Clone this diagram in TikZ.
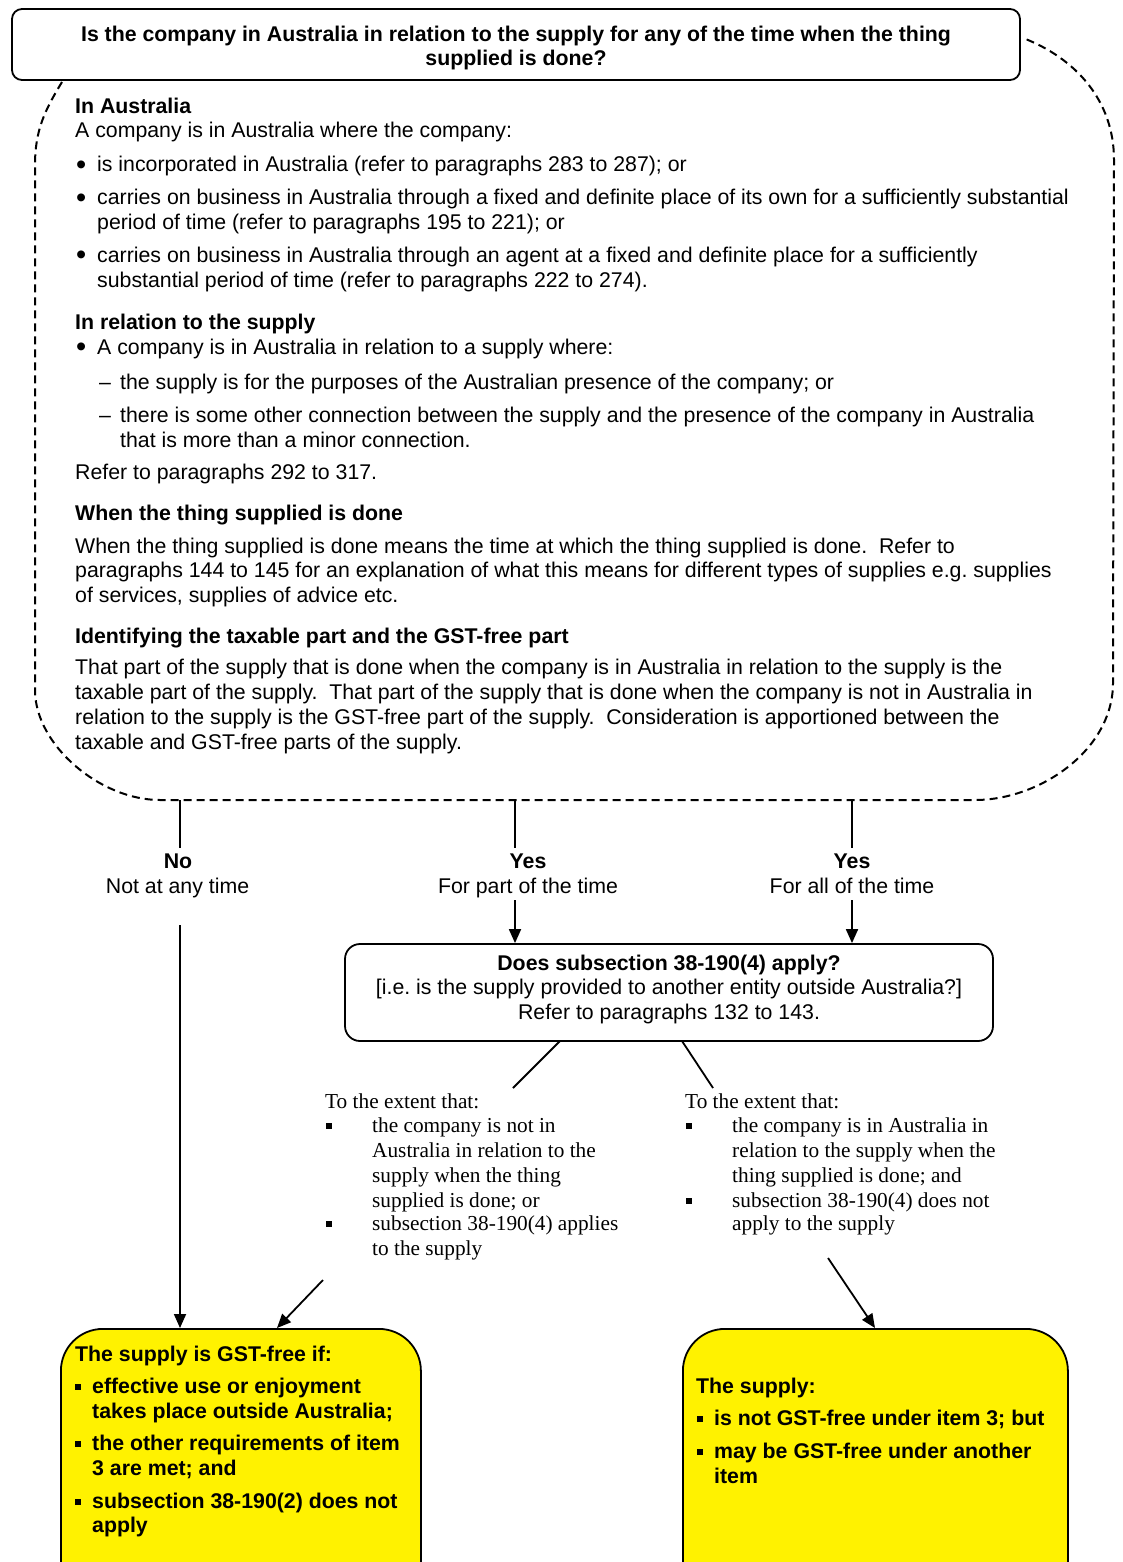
\documentclass[tikz,border=0pt]{standalone}
\usepackage{fontspec}
\setmainfont{Liberation Sans}
\newfontfamily\timesfont{Liberation Serif}
\usetikzlibrary{arrows.meta}
\frenchspacing
\newcommand{\fs}{\fontsize{21.3}{24.5}\selectfont}
\newcommand{\sqbul}{\rule[3.5pt]{5.5pt}{5.5pt}}
\newcommand{\rbul}{\raisebox{-2.5pt}{\fontsize{29}{24.5}\selectfont •}}
\tikzset{
  txt/.style={anchor=base west, inner sep=0pt, font=\fs},
  hd/.style={anchor=base west, inner sep=0pt, font=\fs\bfseries},
  ctr/.style={anchor=base, inner sep=0pt, font=\fs},
  ctrb/.style={anchor=base, inner sep=0pt, font=\fs\bfseries},
  ser/.style={anchor=base west, inner sep=0pt, font=\fs\timesfont},
  qbox/.style={draw=black, line width=1.8pt, rounded corners=10pt, inner sep=0pt},
  mbox/.style={draw=black, line width=1.8pt, rounded corners=15pt, inner sep=0pt},
  boxtext/.style={align=center, inner sep=0pt, font=\fs},
  ybox/.style={draw=black, fill=yellow, line width=1.8pt, rounded corners=42pt, inner sep=0pt},
  conn/.style={line width=1.8pt},
  arr/.style={line width=1.8pt, -{Triangle[length=14pt,width=12pt]}},
  dashline/.style={line width=2pt, dash pattern=on 8pt off 5pt}
}
\begin{document}
\begin{tikzpicture}[x=1pt,y=-1pt]
\useasboundingbox (0,0) rectangle (1122,1562);
\clip (0,0) rectangle (1122,1562);

% question box
\node[qbox, minimum width=1008pt, minimum height=71pt] (q) at (516,44.5) {};
\node[boxtext, font=\fs\bfseries] (qt) at (516,48)
  {Is the company in Australia in relation to the supply for any of the time when the thing\\supplied is done?};

% dashed explanatory region
\draw[dashline] (62,82) .. controls (45,110) and (35,130) .. (35,165) -- (35,690)
  .. controls (35,745) and (100,800) .. (160,800) -- (975,800)
  .. controls (1040,800) and (1113,750) .. (1113,683) -- (1114,160)
  .. controls (1114,100) and (1075,58) .. (1023,38);

% explanatory text
\node[hd] (h1) at (75,113.5) {In Australia};
\node[txt] (p1) at (75,137.5) {A company is in Australia where the company:};
\node[txt] (b1) at (76,172) {\rbul};
\node[txt] (l1) at (97,172) {is incorporated in Australia (refer to paragraphs 283 to 287); or};
\node[txt] (b2) at (76,205) {\rbul};
\node[txt] (l2) at (97,205) {carries on business in Australia through a fixed and definite place of its own for a sufficiently substantial};
\node[txt] (l2b) at (97,229.5) {period of time (refer to paragraphs 195 to 221); or};
\node[txt] (b3) at (76,262) {\rbul};
\node[txt] (l3) at (97,262) {carries on business in Australia through an agent at a fixed and definite place for a sufficiently};
\node[txt] (l3b) at (97,287) {substantial period of time (refer to paragraphs 222 to 274).};

\node[hd] (h2) at (75,329) {In relation to the supply};
\node[txt] (b4) at (76,354) {\rbul};
\node[txt] (l4) at (97,354) {A company is in Australia in relation to a supply where:};
\node[txt] (d1t) at (99,389) {–};
\node[txt] (l5) at (120,389) {the supply is for the purposes of the Australian presence of the company; or};
\node[txt] (d2t) at (99,422) {–};
\node[txt] (l6) at (120,422) {there is some other connection between the supply and the presence of the company in Australia};
\node[txt] (l6b) at (120,447) {that is more than a minor connection.};
\node[txt] (p2) at (75,479) {Refer to paragraphs 292 to 317.};

\node[hd] (h3) at (75,520) {When the thing supplied is done};
\node[txt] (p3a) at (75,553) {When the thing supplied is done means the time at which the thing supplied is done.\ \ Refer to};
\node[txt] (p3b) at (75,577) {paragraphs 144 to 145 for an explanation of what this means for different types of supplies e.g. supplies};
\node[txt] (p3c) at (75,602) {of services, supplies of advice etc.};

\node[hd] (h4) at (75,643) {Identifying the taxable part and the GST-free part};
\node[txt] (p4a) at (75,674) {That part of the supply that is done when the company is in Australia in relation to the supply is the};
\node[txt] (p4b) at (75,699) {taxable part of the supply.\ \ That part of the supply that is done when the company is not in Australia in};
\node[txt] (p4c) at (75,724) {relation to the supply is the GST-free part of the supply.\ \ Consideration is apportioned between the};
\node[txt] (p4d) at (75,749) {taxable and GST-free parts of the supply.};

% branch points on the dashed region
\coordinate (d1) at (180,800);
\coordinate (d2) at (515,800);
\coordinate (d3) at (852,800);
\coordinate (e1) at (180,848);
\coordinate (e2) at (515,848);
\coordinate (e3) at (852,848);
\coordinate (s1) at (180,925);
\coordinate (s2) at (515,900);
\coordinate (s3) at (852,900);

% branch labels
\node[ctrb] (no) at (178,868) {No};
\node[ctr] (noT) at (177.5,893) {Not at any time};
\node[ctrb] (yes1) at (528,868) {Yes};
\node[ctr] (yes1T) at (528,893) {For part of the time};
\node[ctrb] (yes2) at (852,868) {Yes};
\node[ctr] (yes2T) at (852,893) {For all of the time};

% middle box
\node[mbox, minimum width=648pt, minimum height=97pt] (mb) at (669,992.5) {};
\node[boxtext] (mbt) at (669,989)
  {\textbf{Does subsection 38-190(4) apply?}\\{}[i.e. is the supply provided to another entity outside Australia?]\\Refer to paragraphs 132 to 143.};

% yellow result boxes
\node[ybox, minimum width=360pt, minimum height=300pt, anchor=north west] (yl) at (60,1328) {};
\node[ybox, minimum width=385pt, minimum height=300pt, anchor=north west] (yr) at (682,1328) {};

% serif condition texts
\node[ser] (c1) at (325,1108) {To the extent that:};
\node[ser] (c1b1) at (326,1132) {\sqbul};
\node[ser] (c1a) at (372,1132) {the company is not in};
\node[ser] (c1b) at (372,1157) {Australia in relation to the};
\node[ser] (c1c) at (372,1182) {supply when the thing};
\node[ser] (c1d) at (372,1207) {supplied is done; or};
\node[ser] (c1b2) at (326,1230) {\sqbul};
\node[ser] (c1e) at (372,1230) {subsection 38-190(4) applies};
\node[ser] (c1f) at (372,1255) {to the supply};

\node[ser] (c2) at (685,1108) {To the extent that:};
\node[ser] (c2b1) at (686,1132) {\sqbul};
\node[ser] (c2a) at (732,1132) {the company is in Australia in};
\node[ser] (c2b) at (732,1157) {relation to the supply when the};
\node[ser] (c2c) at (732,1182) {thing supplied is done; and};
\node[ser] (c2b2) at (686,1207) {\sqbul};
\node[ser] (c2d) at (732,1207) {subsection 38-190(4) does not};
\node[ser] (c2e) at (732,1230) {apply to the supply};

% yellow box texts
\node[hd] (y1) at (75,1361.5) {The supply is GST-free if:};
\node[txt] (y1b1) at (75,1393) {\sqbul};
\node[hd] (y1a) at (92,1393) {effective use or enjoyment};
\node[hd] (y1b) at (92,1418) {takes place outside Australia;};
\node[txt] (y1b2) at (75,1450) {\sqbul};
\node[hd] (y1c) at (92,1450) {the other requirements of item};
\node[hd] (y1d) at (92,1475) {3 are met; and};
\node[txt] (y1b3) at (75,1508) {\sqbul};
\node[hd] (y1e) at (92,1508) {subsection 38-190(2) does not};
\node[hd] (y1f) at (92,1532) {apply};

\node[hd] (y2) at (696,1393) {The supply:};
\node[txt] (y2b1) at (697,1425) {\sqbul};
\node[hd] (y2a) at (714,1425) {is not GST-free under item 3; but};
\node[txt] (y2b2) at (697,1458) {\sqbul};
\node[hd] (y2b) at (714,1458) {may be GST-free under another};
\node[hd] (y2c) at (714,1483) {item};

% connectors
\draw[conn] (d1) -- (e1);
\draw[conn] (d2) -- (e2);
\draw[conn] (d3) -- (e3);
\draw[arr] (s1) -- (s1 |- yl.north);
\draw[arr] (s2) -- (s2 |- mb.north);
\draw[arr] (s3) -- (s3 |- mb.north);

\coordinate (m1) at (560,1041);
\coordinate (t1) at (513,1088);
\coordinate (m2) at (682,1041);
\coordinate (t2) at (713,1088);
\draw[conn] (m1) -- (t1);
\draw[conn] (m2) -- (t2);

\coordinate (a1) at (323,1280);
\coordinate (a1e) at (277,1328);
\coordinate (a2) at (828,1258);
\coordinate (a2e) at (875,1328);
\draw[arr] (a1) -- (a1e |- yl.north);
\draw[arr] (a2) -- (a2e |- yr.north);
\end{tikzpicture}
\end{document}
